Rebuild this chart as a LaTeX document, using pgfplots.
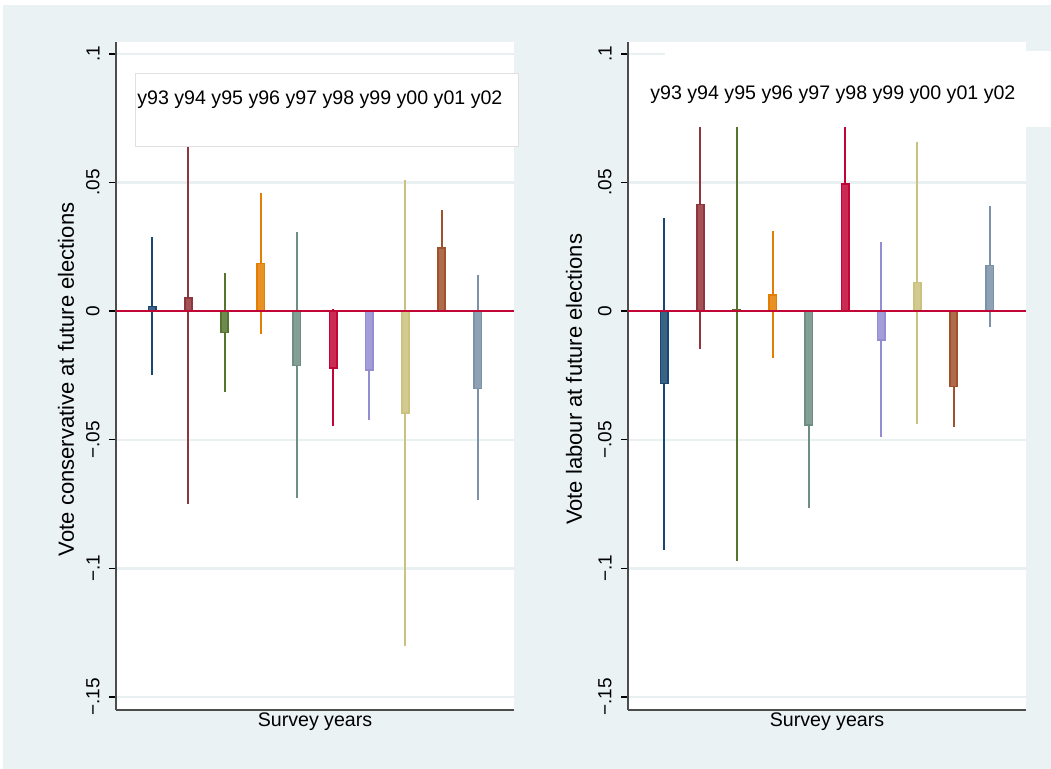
\documentclass[border=0pt]{standalone}
\usepackage{fontspec}
\setmainfont{Liberation Sans}
\usepackage{pgfplots}
\pgfplotsset{compat=1.18}
\definecolor{bg}{RGB}{234,242,243}
\definecolor{grd}{RGB}{232,240,242}
\definecolor{navy}{RGB}{26,71,111}
\definecolor{maroon}{RGB}{144,53,59}
\definecolor{forest}{RGB}{85,117,47}
\definecolor{dkorange}{RGB}{227,126,0}
\definecolor{teal}{RGB}{110,142,132}
\definecolor{cranberry}{RGB}{193,5,52}
\definecolor{lavender}{RGB}{147,141,210}
\definecolor{khaki}{RGB}{202,194,126}
\definecolor{sienna}{RGB}{160,82,45}
\definecolor{emidblue}{RGB}{123,146,168}
\newcommand\tfont{\fontsize{9.8pt}{11pt}\selectfont}
\newcommand\kfont{\fontsize{9.5pt}{11pt}\selectfont}
\newcommand\yfont{\fontsize{11pt}{13pt}\selectfont}
\pgfplotsset{
 stata/.style={
  scale only axis, width=199pt, height=334pt, anchor=south west,
  xmin=0, xmax=11, ymin=-0.15505, ymax=0.10467,
  axis background/.style={fill=white},
  axis x line*=bottom, axis y line*=left,
  axis line style={draw=black!70, line width=0.75pt, -},
  xtick=\empty,
  ytick={-0.15,-0.1,-0.05,0,0.05,0.1},
  yticklabels={−.15,−.1,−.05,0,.05,.1},
  tick align=outside, major tick length=3.5pt,
  tick style={black, line width=0.7pt},
  yticklabel style={rotate=90, anchor=south, font=\kfont, inner sep=0pt},
  yticklabel shift=4.5pt,
  ymajorgrids, major grid style={grd, line width=1.2pt},
  xlabel={Survey years},
  xlabel style={font=\tfont, at={(axis description cs:0.5,0)}, anchor=north, inner sep=0pt, yshift=-1pt},
 },
 ci/.style={line width=1pt},
 bx/.style={ybar, bar width=0.2, bar shift=0pt, line width=0.8pt},
}
\begin{document}
\begin{tikzpicture}
\fill[white] (0,0) rectangle (525.5pt,384.5pt);
\fill[bg] (1.5pt,0) rectangle (525.5pt,382pt);

\begin{axis}[stata, at={(58pt,29.5pt)},
  ylabel={Vote conservative at future elections},
  ylabel style={font=\yfont, at={(axis description cs:-0.1256,0.495)}, anchor=center}]
\addplot[ci, navy] coordinates {(1,-0.0249) (1,0.0287)};
\addplot[bx, fill=navy!85!white, draw=navy] coordinates {(1,0.0019)};
\addplot[ci, maroon] coordinates {(2,-0.075) (2,0.0852)};
\addplot[bx, fill=maroon!85!white, draw=maroon] coordinates {(2,0.0051)};
\addplot[ci, forest] coordinates {(3,-0.0314) (3,0.0150)};
\addplot[bx, fill=forest!85!white, draw=forest] coordinates {(3,-0.0083)};
\addplot[ci, dkorange] coordinates {(4,-0.0087) (4,0.0459)};
\addplot[bx, fill=dkorange!85!white, draw=dkorange] coordinates {(4,0.0185)};
\addplot[ci, teal] coordinates {(5,-0.0727) (5,0.0307)};
\addplot[bx, fill=teal!85!white, draw=teal] coordinates {(5,-0.0211)};
\addplot[ci, cranberry] coordinates {(6,-0.0447) (6,0.0007)};
\addplot[bx, fill=cranberry!85!white, draw=cranberry] coordinates {(6,-0.0220)};
\addplot[ci, lavender] coordinates {(7,-0.0424) (7,-0.0032)};
\addplot[bx, fill=lavender!85!white, draw=lavender] coordinates {(7,-0.0228)};
\addplot[ci, khaki] coordinates {(8,-0.1300) (8,0.0512)};
\addplot[bx, fill=khaki!85!white, draw=khaki] coordinates {(8,-0.0395)};
\addplot[ci, sienna] coordinates {(9,0.0100) (9,0.0392)};
\addplot[bx, fill=sienna!85!white, draw=sienna] coordinates {(9,0.0246)};
\addplot[ci, emidblue] coordinates {(10,-0.0735) (10,0.0139)};
\addplot[bx, fill=emidblue!85!white, draw=emidblue] coordinates {(10,-0.0300)};
\addplot[cranberry, line width=1pt] coordinates {(0,0) (11,0)};
\end{axis}

\begin{axis}[stata, at={(314pt,29.5pt)},
  ylabel={Vote labour at future elections},
  ylabel style={font=\yfont, at={(axis description cs:-0.1357,0.495)}, anchor=center}]
\addplot[ci, navy] coordinates {(1,-0.0927) (1,0.0363)};
\addplot[bx, fill=navy!85!white, draw=navy] coordinates {(1,-0.0281)};
\addplot[ci, maroon] coordinates {(2,-0.0147) (2,0.0977)};
\addplot[bx, fill=maroon!85!white, draw=maroon] coordinates {(2,0.0415)};
\addplot[ci, forest] coordinates {(3,-0.0972) (3,0.0982)};
\addplot[bx, fill=forest!85!white, draw=forest] coordinates {(3,0.0005)};
\addplot[ci, dkorange] coordinates {(4,-0.0183) (4,0.0310)};
\addplot[bx, fill=dkorange!85!white, draw=dkorange] coordinates {(4,0.0064)};
\addplot[ci, teal] coordinates {(5,-0.0764) (5,-0.0120)};
\addplot[bx, fill=teal!85!white, draw=teal] coordinates {(5,-0.0442)};
\addplot[ci, cranberry] coordinates {(6,0.0045) (6,0.0945)};
\addplot[bx, fill=cranberry!85!white, draw=cranberry] coordinates {(6,0.0495)};
\addplot[ci, lavender] coordinates {(7,-0.0490) (7,0.0268)};
\addplot[bx, fill=lavender!85!white, draw=lavender] coordinates {(7,-0.0112)};
\addplot[ci, khaki] coordinates {(8,-0.0438) (8,0.0658)};
\addplot[bx, fill=khaki!85!white, draw=khaki] coordinates {(8,0.0111)};
\addplot[ci, sienna] coordinates {(9,-0.0450) (9,-0.0134)};
\addplot[bx, fill=sienna!85!white, draw=sienna] coordinates {(9,-0.0292)};
\addplot[ci, emidblue] coordinates {(10,-0.0062) (10,0.0410)};
\addplot[bx, fill=emidblue!85!white, draw=emidblue] coordinates {(10,0.0178)};
\addplot[cranberry, line width=1pt] coordinates {(0,0) (11,0)};
\end{axis}

% legends
\filldraw[fill=white, draw=black!12, line width=0.5pt] (67.5pt,311pt) rectangle (259pt,347.5pt);
\node[anchor=west, inner sep=0pt, font=\tfont] at (68.5pt,334.5pt) {y93 y94 y95 y96 y97 y98 y99 y00 y01 y02};
\fill[white] (332.5pt,321pt) rectangle (525.5pt,359pt);
\node[anchor=west, inner sep=0pt, font=\tfont] at (325pt,337pt) {y93 y94 y95 y96 y97 y98 y99 y00 y01 y02};

\pgfresetboundingbox
\path[use as bounding box] (0,0) rectangle (525.5pt,384.5pt);
\end{tikzpicture}
\end{document}
